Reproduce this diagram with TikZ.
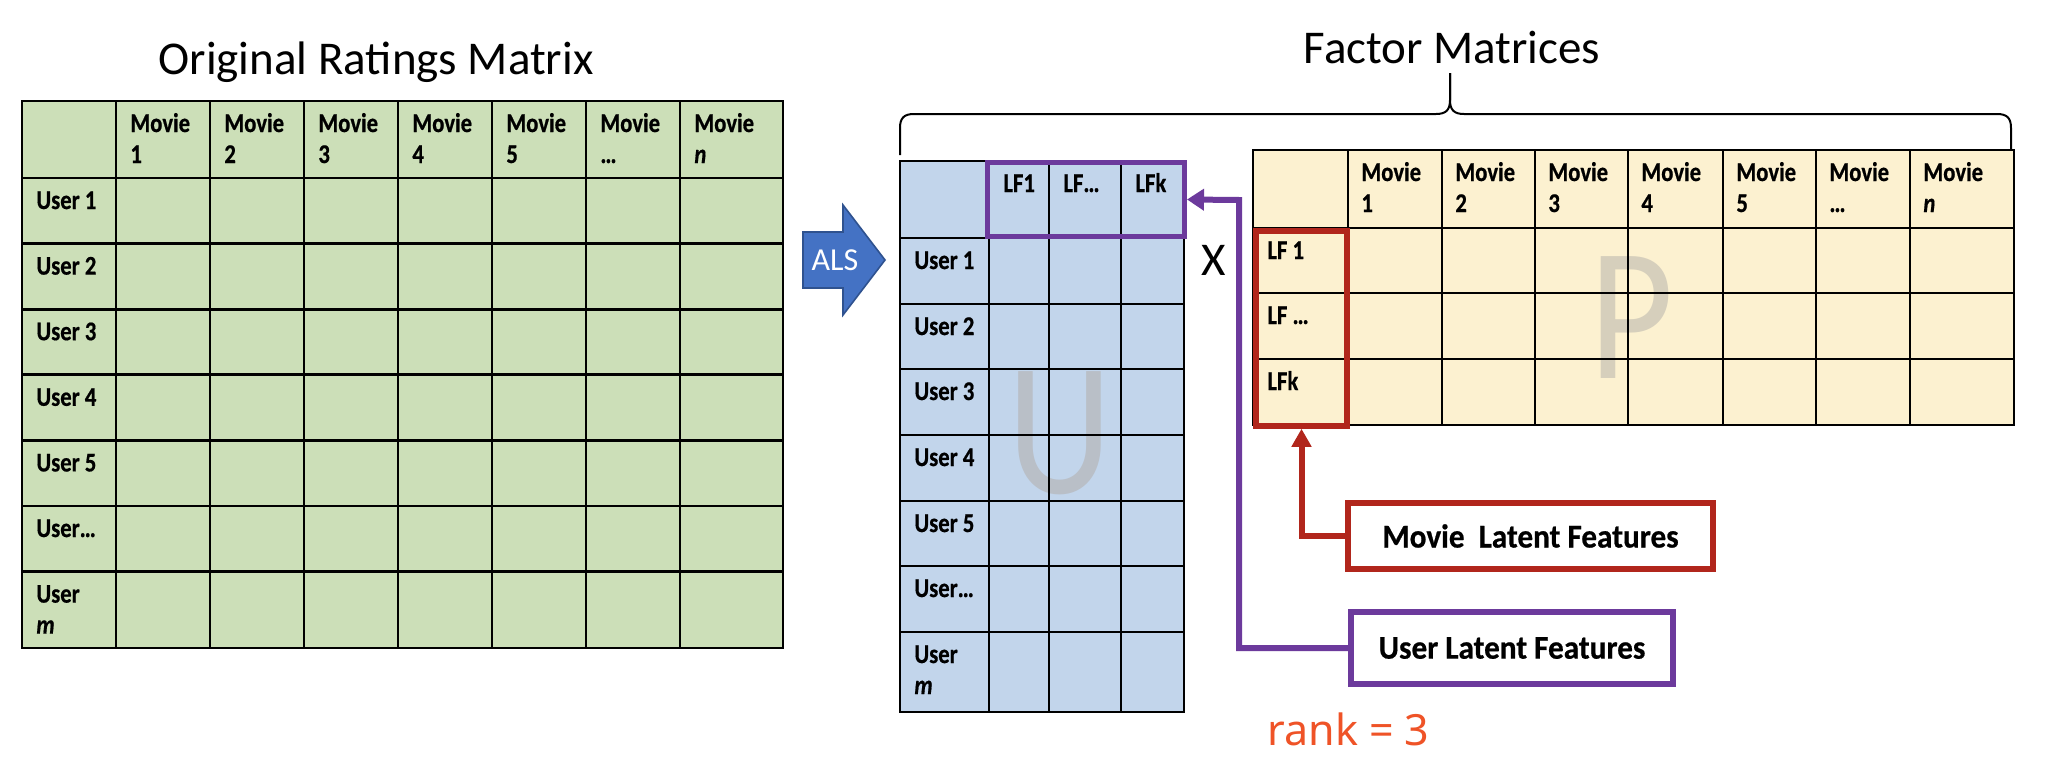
\documentclass[tikz,border=0pt]{standalone}
\usepackage{fontspec}
\setmainfont{Carlito}
\newfontfamily\cellf[FakeStretch=0.84,FakeBold=0.6]{Carlito}
\newfontfamily\labf[FakeStretch=0.94,FakeBold=0.6]{Carlito}
\newfontfamily\wmf[FakeStretch=0.86]{Carlito}
\newfontfamily\rankf{Noto Sans}
\usetikzlibrary{arrows.meta,fit}
\definecolor{gfill}{HTML}{CCDFB8}
\definecolor{bfill}{HTML}{C2D5EB}
\definecolor{yfill}{HTML}{FCF1D0}
\definecolor{wmU}{HTML}{B9BFC7}
\definecolor{wmP}{HTML}{D6CFBC}
\definecolor{upurple}{HTML}{6C3A9C}
\definecolor{ured}{HTML}{B1261C}
\definecolor{alsblue}{HTML}{4472C4}
\definecolor{alsdark}{HTML}{2F528F}
\definecolor{rankc}{HTML}{EF5327}
\begin{document}
\begin{tikzpicture}[x=0.5pt,y=-0.5pt,
  gridline/.style={line width=1.4pt,black},
  ctext/.style={anchor=base west,inner sep=0pt,font=\cellf\bfseries\fontsize{13.5}{15.5}\selectfont},
  wm/.style={inner sep=0pt,font=\wmf\fontsize{95}{95}\selectfont},
  lbox/.style={line width=2.75pt,inner sep=0pt,font=\labf\bfseries\fontsize{16.6}{18}\selectfont},
  title/.style={anchor=base,inner sep=0pt,font=\fontsize{23.5}{28}\selectfont},
  conn/.style={line width=3pt}]
\fill[white] (0,0) rectangle (2062,776);
\useasboundingbox (0,0) rectangle (2062,776);

% ---------- titles ----------
\node[title] (t1) at (376,74) {Original Ratings Matrix};
\node[title] (t2) at (1452,63) {Factor Matrices};

% ---------- original ratings matrix ----------
\fill[gfill] (22,101) rectangle (783,648);
\foreach \x in {116,210,304,398,492,586,680} \draw[gridline] (\x,101) -- (\x,648);
\foreach \y in {178,243.6,309.2,374.8,440.4,506,571.6} \draw[gridline] (22,\y) -- (783,\y);
\draw[gridline] (22,101) rectangle (783,648);
\foreach \t [count=\i] in {1,2,3,4,5,…,\textit{n}}
  \node[ctext] (L-h\i) at ({22+94*\i+14},132) {\begin{tabular}[t]{@{}l@{}}Movie\\\t\end{tabular}};
\foreach \t [count=\j] in {User 1,User 2,User 3,User 4,User 5,User…,{User\\\textit{m}}}
  \node[ctext] (L-r\j) at (36,{178+65.6*(\j-1)+31}) {\begin{tabular}[t]{@{}l@{}}\t\end{tabular}};

% ---------- ALS arrow ----------
\draw[fill=alsblue,draw=alsdark,line width=0.8pt] (803,232) -- (843,232) -- (843,205) -- (885,260) -- (843,315) -- (843,288) -- (803,288) -- cycle;
\node[inner sep=0pt,text=white,font=\fontsize{16}{16}\selectfont] (als) at (835,260) {ALS};

% ---------- brace ----------
\draw[line width=1pt] (900,155) -- (900,128) .. controls (900,118) and (904,114) .. (914,114) -- (1436,114) .. controls (1446,114) and (1450,110) .. (1450,100) -- (1450,73);
\draw[line width=1pt] (1450,73) -- (1450,100) .. controls (1450,110) and (1454,114) .. (1464,114) -- (1997,114) .. controls (2007,114) and (2011,118) .. (2011,128) -- (2011,150);

% ---------- U matrix ----------
\fill[bfill] (900,161) rectangle (1184,712);
\node[wm,text=wmU] (U-wm) at (1060,433.5) {U};
\foreach \x in {989,1049,1121} \draw[gridline] (\x,161) -- (\x,712);
\foreach \y in {238,304,369,435,501,566,632} \draw[gridline] (900,\y) -- (1184,\y);
\draw[gridline] (900,161) rectangle (1184,712);
\node[ctext] (U-h1) at (1003,192) {LF1};
\node[ctext] (U-h2) at (1063,192) {LF…};
\node[ctext] (U-h3) at (1135,192) {LFk};
\foreach \t/\yy [count=\j] in {User 1/238,User 2/304,User 3/369,User 4/435,User 5/501,User…/566,{User\\\textit{m}}/632}
  \node[ctext] (U-r\j) at (914,{\yy+31}) {\begin{tabular}[t]{@{}l@{}}\t\end{tabular}};

% ---------- X ----------
\node[title] (times) at (1214,275) {X};

% ---------- P matrix ----------
\fill[yfill] (1253,150) rectangle (2014,425);
\node[wm,text=wmP] (P-wm) at (1632,317.5) {P};
\foreach \x in {1348,1442,1535,1628,1723,1816,1910} \draw[gridline] (\x,150) -- (\x,425);
\foreach \y in {228,293,359} \draw[gridline] (1253,\y) -- (2014,\y);
\draw[gridline] (1253,150) rectangle (2014,425);
\foreach \t/\xx [count=\i] in {1/1348,2/1442,3/1535,4/1628,5/1723,…/1816,\textit{n}/1910}
  \node[ctext] (P-h\i) at ({\xx+13},181) {\begin{tabular}[t]{@{}l@{}}Movie\\\t\end{tabular}};
\node[ctext] (P-r1) at (1267,259) {LF 1};
\node[ctext] (P-r2) at (1267,324) {LF …};
\node[ctext] (P-r3) at (1267,390) {LFk};

% ---------- highlight boxes ----------
\node[fit={(987.5,162.5)(1184.5,236.5)},draw=upurple,line width=2.5pt,inner sep=0pt] (ubox) {};
\node[fit={(1256,231)(1347,426)},draw=ured,line width=2.75pt,inner sep=0pt] (pbox) {};

% ---------- label boxes ----------
\node[lbox,draw=ured,minimum width=182.5pt,minimum height=33pt] (mlf) at (1530.5,536) {Movie\ \ Latent Features};
\node[lbox,draw=upurple,minimum width=161pt,minimum height=36pt] (ulf) at (1512,648) {User Latent Features};

% ---------- connectors ----------
\coordinate (pturn) at (1239,200);
\draw[conn,upurple,-{Triangle[length=8.5pt,width=10.5pt]}] (ulf.west) -| (pturn) -- (ubox.east);
\draw[conn,ured,-{Triangle[length=9pt,width=9.5pt]}] (mlf.west) -| (pbox.south);

% ---------- rank ----------
\node[anchor=base west,inner sep=0pt,text=rankc,font=\rankf\fontsize{21.5}{24}\selectfont] (rank) at (1267,745) {rank = 3};
\end{tikzpicture}
\end{document}
